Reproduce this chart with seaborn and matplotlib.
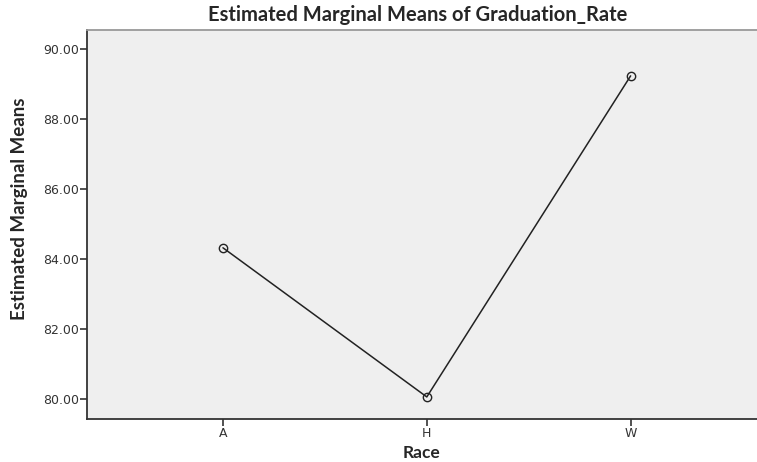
import matplotlib
matplotlib.use("Agg")
import matplotlib.pyplot as plt
import seaborn as sns
import pandas as pd

race = ["A", "H", "W"]
means = [84.32, 80.06, 89.23]
yticks = [80.0, 82.0, 84.0, 86.0, 88.0, 90.0]

sns.set_style("white")
plt.rcParams["font.family"] = ["DejaVu Sans"]

df = pd.DataFrame({"Race": race, "Mean": means})

fig = plt.figure(figsize=(7.57, 4.62), dpi=100)
ax = fig.add_axes([87/757, 43/462, 1 - 87/757, (419-30)/462])
ax.set_facecolor("#efefef")

sns.lineplot(data=df, x="Race", y="Mean", ax=ax, color="#222222", linewidth=1.1,
             marker="o", markersize=6, markerfacecolor="none",
             markeredgecolor="#222222", markeredgewidth=1.0, sort=False)

ax.set_xlim(-0.667, 2.62)
ax.set_ylim(79.43, 90.54)
ax.set_yticks(yticks)
ax.set_yticklabels([f"{v:.2f}" for v in yticks])

ax.tick_params(axis="both", which="both", direction="out", length=5, width=1.2,
               color="#333333", labelsize=9, labelcolor="#333333", pad=1,
               left=True, bottom=True)

for s in ["left", "bottom"]:
    ax.spines[s].set_color("#333333")
    ax.spines[s].set_linewidth(1.3)
ax.spines["top"].set_color("#999999")
ax.spines["top"].set_linewidth(1.3)
ax.spines["right"].set_visible(False)

ax.set_xlabel("Race", fontsize=12.5, fontweight="bold", family="Lato", labelpad=3)
ax.set_ylabel("Estimated Marginal Means", fontsize=13.5, fontweight="bold",
              family="Lato")
ax.yaxis.set_label_coords(-0.088, 0.54)
fig.text(418/757, 1 - 15/462, "Estimated Marginal Means of Graduation_Rate",
         ha="center", va="center", fontsize=14.5, fontweight="bold", family="Lato")

fig.savefig("out.png", dpi=100)
